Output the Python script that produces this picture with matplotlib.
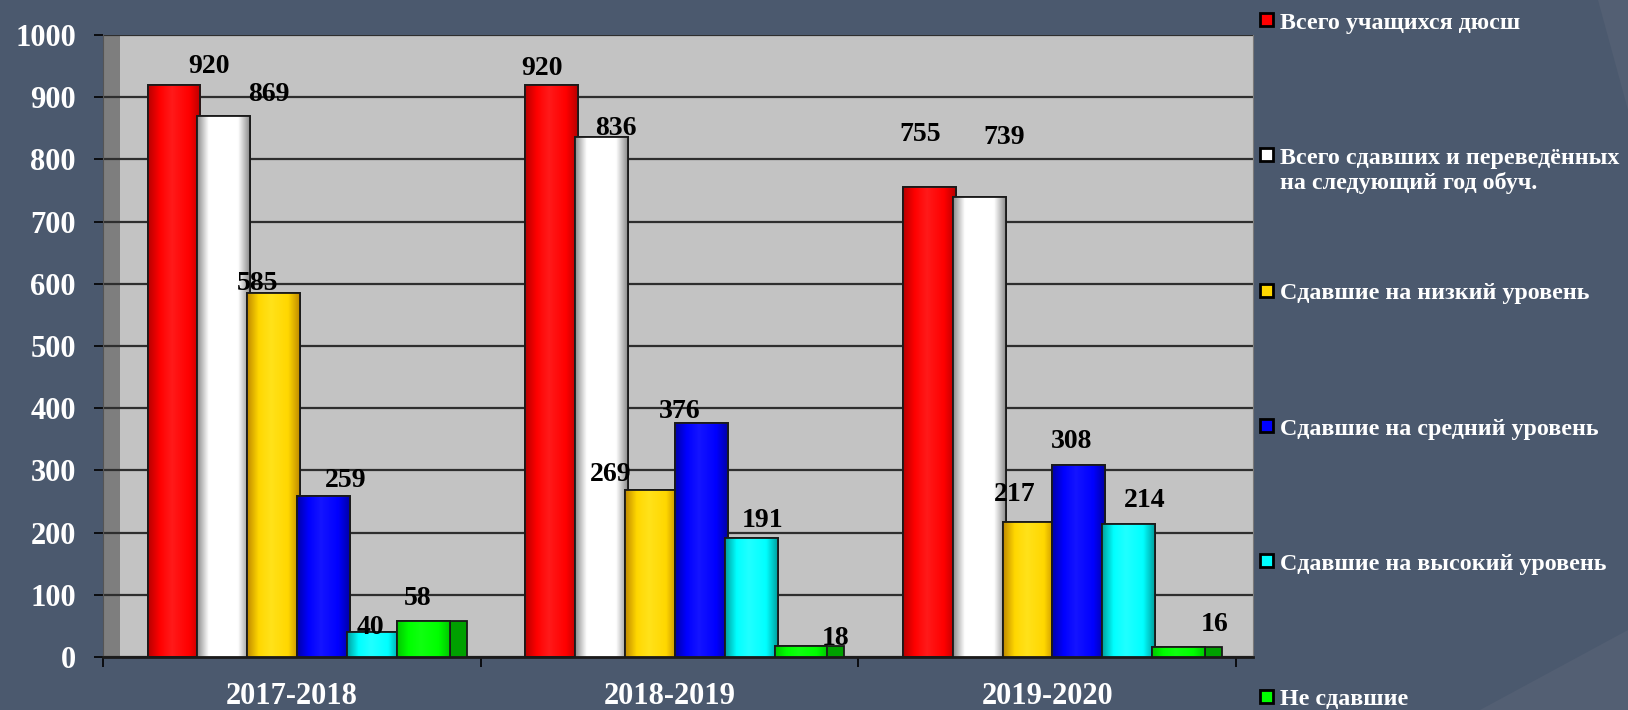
import numpy as np
import matplotlib
matplotlib.use('Agg')
import matplotlib.pyplot as plt
from matplotlib.colors import LinearSegmentedColormap
from matplotlib.patches import Rectangle, Polygon

plt.rcParams['font.family'] = ['Liberation Serif', 'DejaVu Serif']
plt.rcParams['font.weight'] = 'bold'

# данные
years = ['2017-2018', '2018-2019', '2019-2020']
series = ['Всего учащихся дюсш',
          'Всего сдавших и переведённых\nна следующий год обуч.',
          'Сдавшие на низкий уровень',
          'Сдавшие на средний уровень',
          'Сдавшие на высокий уровень',
          'Не сдавшие']
total = [920, 920, 755]
passed = [869, 836, 739]
low = [585, 269, 217]
mid = [259, 376, 308]
high = [40, 191, 214]
failed = [58, 18, 16]
values = [total, passed, low, mid, high, failed]

colors = ['#ff0000', '#ffffff', '#ffd700', '#0000ff', '#00ffff', '#00ff00']
darks = ['#b80000', '#8c8c8c', '#c08a00', '#0000a8', '#00a0a0', '#00c800']
lights = ['#ff1a1a', '#ffffff', '#ffe21a', '#1414ff', '#20ffff', '#10ff10']

# сдвиги подписей, пиксели
label_dx = [[35, -10, -9], [45, 14, 25], [-16, -41, -14],
            [22, -22, -7], [-3, 11, 16], [-6, 35, 36]]
label_dy = [[21, 19, 56], [25, 12, 63], [13, 18, 31],
            [18, 15, 27], [8, 21, 26], [25, 10, 26]]

W, H = 1628, 710
bg = '#4b596e'
fig = plt.figure(figsize=(W / 100, H / 100), dpi=100)
fig.patch.set_facecolor(bg)

# фон справа
fig.patches.append(Polygon([(1480 / W, 0), (1.0, 80 / H), (1.0, 0)], closed=True,
                           transform=fig.transFigure, facecolor='#535f73', edgecolor='none', zorder=0))
fig.patches.append(Polygon([(1598 / W, 1.0), (1.0, 1.0), (1.0, 1 - 110 / H)], closed=True,
                           transform=fig.transFigure, facecolor='#535f73', edgecolor='none', zorder=0))

ax = fig.add_axes([103 / W, 53 / H, 1150 / W, 622 / H])
ax.set_facecolor('#c3c3c3')

depth = 17 / 378.0
x = np.arange(len(years))
start = -0.382
pitch = 0.132
bw = 0.14

# левая стенка
ax.axvspan(-0.5, -0.5 + depth, color='#7e7e7e', zorder=0.3, lw=0)


def shade_bar(bar, dark, main, light, z):
    x0, y0 = bar.get_x(), bar.get_y()
    w, h = bar.get_width(), bar.get_height()
    cmap = LinearSegmentedColormap.from_list(
        'g', [(0, dark), (0.22, main), (0.45, light), (0.78, main), (1, dark)])
    grad = np.linspace(0, 1, 128).reshape(1, -1)
    im = ax.imshow(grad, cmap=cmap, extent=(x0, x0 + w, y0, y0 + h),
                   aspect='auto', zorder=z, interpolation='bilinear')
    im.set_clip_path(bar)


for j, vals in enumerate(values):
    z = 2 + j
    left = x + start + j * pitch
    if j == len(values) - 1:
        ax.bar(left + bw, vals, width=depth, align='edge', color='#00a000',
               edgecolor='#1a1a1a', linewidth=1.3, zorder=z - 0.5)
    bars = ax.bar(left, vals, width=bw, align='edge', color=colors[j],
                  edgecolor='#1a1a1a', linewidth=1.3, zorder=z)
    for b in bars:
        shade_bar(b, darks[j], colors[j], lights[j], z + 0.1)
    ax.bar(left, vals, width=bw, align='edge', fill=False,
           edgecolor='#1a1a1a', linewidth=1.3, zorder=z + 0.2)
    for i, v in enumerate(vals):
        ax.annotate(str(v), (left[i] + bw / 2, v),
                    xytext=(label_dx[j][i], label_dy[j][i] - 3),
                    textcoords='offset pixels', ha='center', va='center',
                    fontsize=20, fontweight='bold', color='black', zorder=20)

ax.set_xlim(-0.5, 2.5 + depth)
ax.set_ylim(0, 1000)

ax.set_yticks(np.arange(0, 1001, 100))
ax.tick_params(axis='y', length=6.5, width=1.2, color='black', pad=13,
               labelsize=22, labelcolor='white')
ax.set_xticks(x)
ax.set_xticklabels(years)
ax.set_xticks(np.arange(-0.5, 3, 1), minor=True)
ax.tick_params(axis='x', which='major', length=0, pad=18, labelsize=22, labelcolor='white')
ax.tick_params(axis='x', which='minor', length=7.5, width=1.2, color='black')
for lbl in ax.get_xticklabels() + ax.get_yticklabels():
    lbl.set_fontweight('bold')

ax.yaxis.grid(True, color='#2e2e2e', lw=1.6)
ax.set_axisbelow(True)
ax.spines['top'].set_visible(False)
ax.spines['left'].set_color('#555555')
ax.spines['right'].set_color('#7a7a7a')
ax.spines['bottom'].set_color('#1a1a1a')
ax.spines['bottom'].set_linewidth(2)

# легенда
for i, (name, c) in enumerate(zip(series, colors)):
    yc = 1 - (19.7 + i * 135.3) / H
    fig.patches.append(Rectangle((1260 / W, yc - 6.5 / H), 13 / W, 13 / H,
                                 transform=fig.transFigure, facecolor=c,
                                 edgecolor='black', lw=2, zorder=5))
    fig.text(1280 / W, yc + 7 / H, name, color='white', fontsize=17.3,
             fontweight='bold', va='top', ha='left', linespacing=1.15)

fig.savefig('out.png', dpi=100, facecolor=fig.get_facecolor())
